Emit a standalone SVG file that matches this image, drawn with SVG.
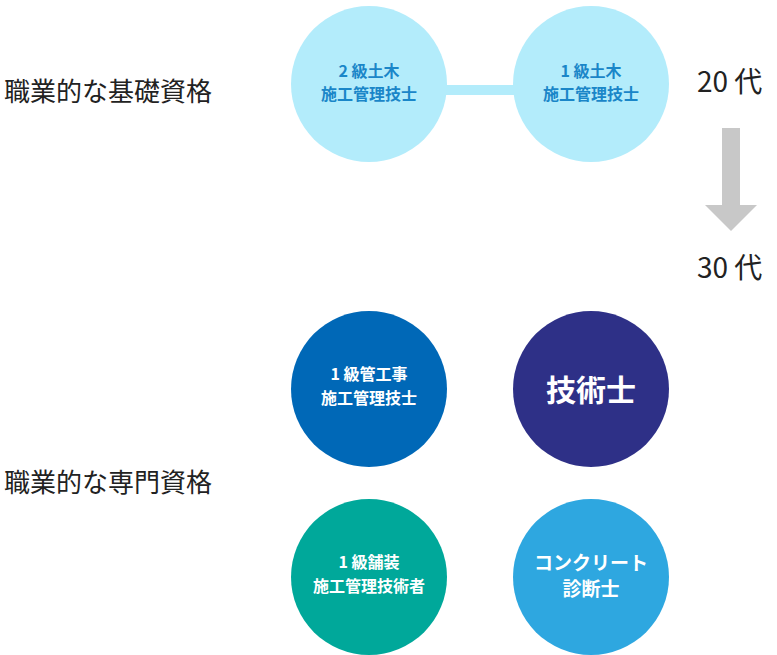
<svg xmlns="http://www.w3.org/2000/svg" width="777" height="655" viewBox="0 0 777 655">
<style>
.lbl{font-family:"Noto Sans CJK JP",sans-serif;font-size:26px;fill:#222}
.age{font-family:"Noto Sans CJK JP",sans-serif;font-size:28px;fill:#222}
.n{font-family:"Noto Sans CJK JP",sans-serif;font-weight:bold;font-size:16px;text-anchor:middle}
.w{fill:#fff}.b{fill:#1a86c8}
</style>
<rect width="777" height="655" fill="#fff"/>
<text class="lbl" x="4" y="101">職業的な基礎資格</text>
<text class="lbl" x="4" y="492">職業的な専門資格</text>
<text class="age" x="697" y="92">20 代</text>
<text class="age" x="697" y="278">30 代</text>
<g id="connectors">
<line x1="440" y1="90" x2="520" y2="90" stroke="#b3ecfb" stroke-width="10"/>
<polygon points="722,128 740,128 740,205 757,205 731,231 705,205 722,205" fill="#c8c8c8"/>
</g>
<g id="n1"><circle cx="369" cy="84" r="78" fill="#b3ecfb"/><text class="n b" x="369" y="77">2 級土木</text><text class="n b" x="369" y="100">施工管理技士</text></g>
<g id="n2"><circle cx="591" cy="84" r="78" fill="#b3ecfb"/><text class="n b" x="591" y="77">1 級土木</text><text class="n b" x="591" y="100">施工管理技士</text></g>
<g id="n3"><circle cx="369" cy="389" r="78" fill="#0068b7"/><text class="n w" x="369" y="380">1 級管工事</text><text class="n w" x="369" y="404">施工管理技士</text></g>
<g id="n4"><circle cx="591" cy="389" r="78" fill="#2e3087"/><text class="n w" x="591" y="401" style="font-size:30px">技術士</text></g>
<g id="n5"><circle cx="369" cy="577" r="78" fill="#00a89a"/><text class="n w" x="369" y="568">1 級舗装</text><text class="n w" x="369" y="592">施工管理技術者</text></g>
<g id="n6"><circle cx="591" cy="577" r="78" fill="#2ea7e0"/><text class="n w" x="591" y="570" style="font-size:19px">コンクリート</text><text class="n w" x="591" y="596" style="font-size:19px">診断士</text></g>
</svg>
